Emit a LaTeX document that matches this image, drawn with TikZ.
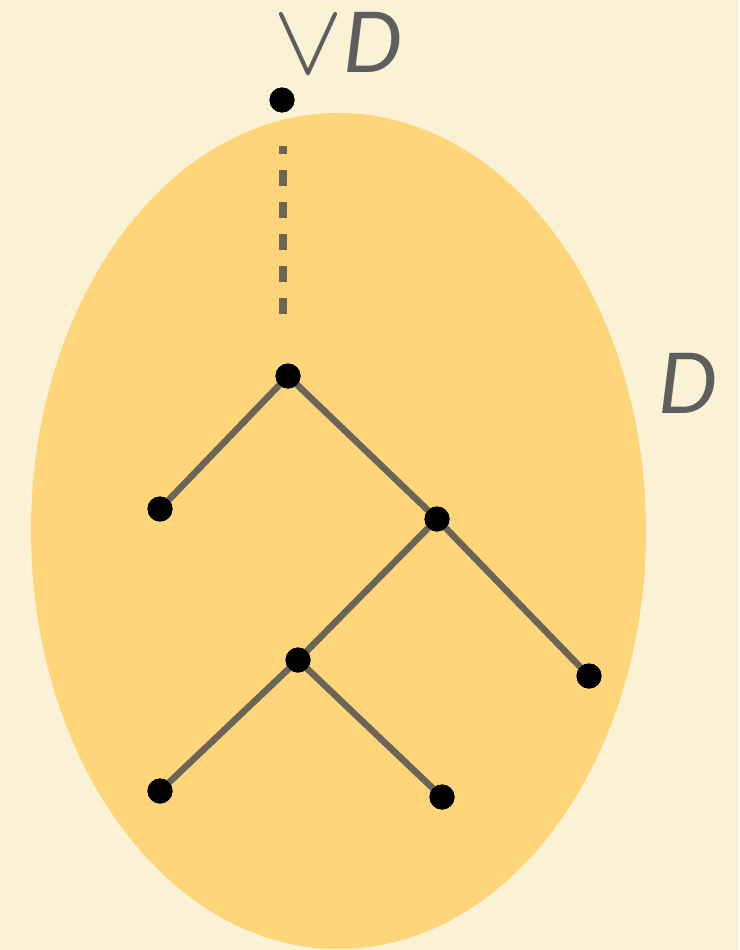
\documentclass[tikz,border=0pt]{standalone}
\usepackage{fontspec}
\newfontfamily\labelfont{Lato}
\definecolor{bgcol}{HTML}{FBF2D6}
\definecolor{ellcol}{HTML}{FFD57A}
\definecolor{edgecol}{HTML}{6B6557}
\definecolor{textcol}{HTML}{5E5E5E}
\begin{document}
\begin{tikzpicture}[x=1pt,y=-1pt,
  dot/.style={circle,fill=black,inner sep=0pt,minimum size=25pt},
  edge/.style={draw=edgecol,line width=6.5pt},
  dashedge/.style={draw=edgecol,line width=7.5pt,dash pattern=on 16pt off 16pt},
  lbl/.style={text=textcol,inner sep=0pt,font=\labelfont\itshape\fontsize{84}{84}\selectfont}]
\fill[bgcol] (0,0) rectangle (739,950);
\useasboundingbox (0,0) rectangle (739,950);
\fill[ellcol] (338.5,531) ellipse [x radius=307.5pt, y radius=418pt];
\node[dot] (top) at (282,100) {};
\node[dot] (r) at (288,376) {};
\node[dot] (a) at (160,509) {};
\node[dot] (b) at (437,519) {};
\node[dot] (c) at (298,660) {};
\node[dot] (d) at (589,676) {};
\node[dot] (e) at (160,791) {};
\node[dot] (f) at (442,797) {};
\coordinate (ds) at (283,314);
\coordinate (de) at (283,146);
\draw[dashedge] (ds) -- (de);
\path[edge] (r.center) -- (a.center) (r.center) -- (b.center) (b.center) -- (c.center) (b.center) -- (d.center) (c.center) -- (e.center) (c.center) -- (f.center);
\foreach \n in {top,r,a,b,c,d,e,f} \fill[black] (\n) circle (12.5pt);
\node[text=textcol,inner sep=0pt] (vee) at (308,45) {\scalebox{10.5}[10.2]{$\vee$}};
\node[lbl,anchor=base west] (vd) at (343,73) {D};
\node[lbl,anchor=base west] (dl) at (658,413) {D};
\end{tikzpicture}
\end{document}
